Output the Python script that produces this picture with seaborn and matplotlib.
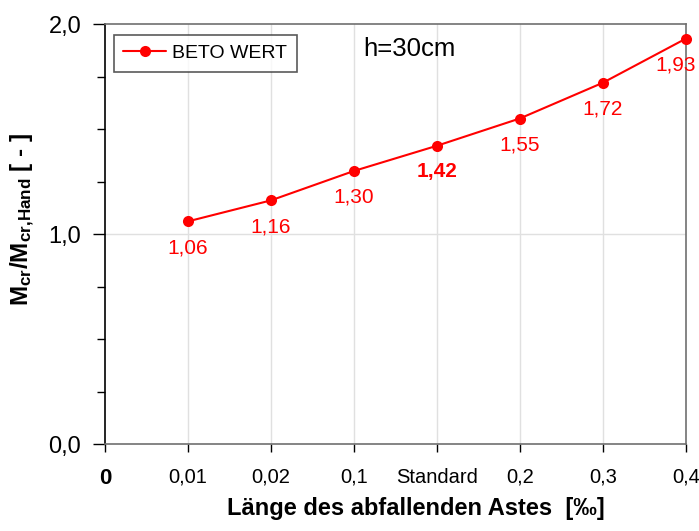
import matplotlib
matplotlib.use("Agg")
import matplotlib.pyplot as plt
from matplotlib.ticker import FixedLocator, MultipleLocator
import pandas as pd
import seaborn as sns

# data
categories = ["0", "0,01", "0,02", "0,1", "Standard", "0,2", "0,3", "0,4"]
values = [1.06, 1.16, 1.30, 1.42, 1.55, 1.72, 1.93]
value_labels = ["1,06", "1,16", "1,30", "1,42", "1,55", "1,72", "1,93"]
bold_label = "1,42"
y_ticks = [0.0, 1.0, 2.0]
y_tick_labels = ["0,0", "1,0", "2,0"]

df = pd.DataFrame({"pos": range(1, len(values) + 1), "ratio": values})

sns.set_style("white")
plt.rcParams["font.family"] = ["Liberation Sans", "DejaVu Sans"]
plt.rcParams["mathtext.fontset"] = "custom"
plt.rcParams["mathtext.rm"] = "Liberation Sans"
plt.rcParams["mathtext.bf"] = "Liberation Sans:bold"
plt.rcParams["text.color"] = "black"
plt.rcParams["axes.labelcolor"] = "black"
plt.rcParams["xtick.color"] = "black"
plt.rcParams["ytick.color"] = "black"

fig = plt.figure(figsize=(6.99, 5.31), dpi=100)
ax = fig.add_axes([0.150, 0.1638, 0.831, 0.791])

# light grid first so the line sits on top
for p in range(1, len(categories) - 1):
    ax.axvline(p, color="#e0e0e0", lw=1, zorder=0)
ax.axhline(1.0, color="#e0e0e0", lw=1, zorder=0)

sns.lineplot(
    data=df, x="pos", y="ratio", ax=ax, color="red", marker="o",
    markersize=8, markeredgewidth=0, linewidth=1.5, label="BETO WERT",
    clip_on=False, zorder=3,
)

for p, v, lab in zip(df["pos"], df["ratio"], value_labels):
    dx = -7 if p == len(values) else 0
    ax.annotate(
        lab, (p, v), xytext=(dx, -12), textcoords="offset points",
        ha="center", va="top", color="red", fontsize=15,
        fontweight="bold" if lab == bold_label else "normal",
        annotation_clip=False,
    )

ax.set_xlim(0, len(categories) - 1)
ax.set_ylim(0, 2.0)
ax.xaxis.set_major_locator(FixedLocator(range(len(categories))))
ax.set_xticklabels(categories, fontsize=14.5)
ax.get_xticklabels()[0].set_fontweight("bold")
ax.get_xticklabels()[0].set_fontsize(16)
ax.set_yticks(y_ticks)
ax.set_yticklabels(y_tick_labels, fontsize=17)
ax.yaxis.set_minor_locator(MultipleLocator(0.25))
ax.tick_params(axis="x", direction="out", length=6, width=1, pad=11,
               bottom=True, color="black")
ax.tick_params(axis="y", which="major", direction="out", length=9,
               width=1, left=True, color="black", pad=8)
ax.tick_params(axis="y", which="minor", direction="out", length=6,
               width=1, left=True, color="black")

for side in ["top", "right", "bottom"]:
    ax.spines[side].set_color("#707070")
    ax.spines[side].set_linewidth(1.2)
ax.spines["left"].set_color("black")
ax.spines["left"].set_linewidth(1.2)

ax.set_xlabel("Länge des abfallenden Astes  [‰]", fontsize=17,
              fontweight="bold", labelpad=11)
ax.xaxis.set_label_coords(0.535, -0.125)
ax.set_ylabel(r"$\mathbf{M_{cr}/M_{cr{,}Hand}}$ [ - ]", fontsize=17.5,
              fontweight="bold")
ax.yaxis.set_label_coords(-0.117, 0.535)

ax.text(0.445, 0.94, "h=30cm", transform=ax.transAxes, fontsize=18.5,
        ha="left", va="center", color="black")

leg = ax.legend(loc="upper left", bbox_to_anchor=(0.015, 0.975),
                fontsize=14, frameon=True, fancybox=False, handlelength=2.2,
                borderpad=0.5, handletextpad=0.3, borderaxespad=0)
leg.get_frame().set_edgecolor("#303030")
leg.get_frame().set_linewidth(1.2)

fig.savefig("out.png", dpi=100)
